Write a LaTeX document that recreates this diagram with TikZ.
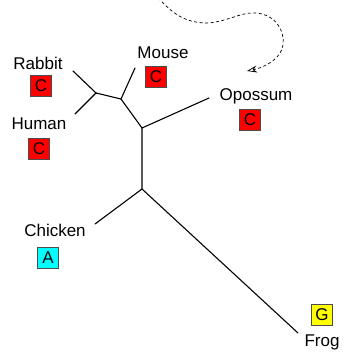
\documentclass[tikz,border=0pt]{standalone}
\usepackage{fontspec}
\setmainfont{Liberation Sans}
\usetikzlibrary{arrows.meta}
\definecolor{basered}{RGB}{255,0,0}
\definecolor{basecyan}{RGB}{0,255,255}
\definecolor{baseyellow}{RGB}{255,255,0}

\begin{document}
\begin{tikzpicture}[x=1pt,y=-1pt,
  taxon/.style={anchor=base,inner sep=0pt,font=\fontsize{17}{20}\selectfont},
  base/.style={draw=black!70,line width=0.6pt,minimum size=21pt,inner sep=0pt,font=\fontsize{17}{20}\selectfont},
  branch/.style={line width=1.1pt,line cap=round},
]
  \useasboundingbox (0,0) rectangle (345,353);
  % tree
  \coordinate (n1) at (96,93);
  \coordinate (n2) at (121,99);
  \coordinate (n3) at (142,128);
  \coordinate (n4) at (142,189);
  \coordinate (rabbit) at (73,71);
  \coordinate (human) at (75,114);
  \coordinate (mouse) at (135,68);
  \coordinate (opossum) at (209,98);
  \coordinate (chicken) at (95,224);
  \coordinate (frog) at (298,333);
  \draw[branch] (rabbit) -- (n1) -- (human);
  \draw[branch] (n1) -- (n2) -- (mouse);
  \draw[branch] (n2) -- (n3) -- (opossum);
  \draw[branch] (n3) -- (n4) -- (chicken);
  \draw[branch] (n4) -- (frog);
  % labels
  \node[taxon] (lrabbit) at (38,70) {Rabbit};
  \node[taxon] (lmouse) at (163,59) {Mouse};
  \node[taxon] (lopossum) at (256,100) {Opossum};
  \node[taxon] (lhuman) at (39,129) {Human};
  \node[taxon] (lchicken) at (55,236) {Chicken};
  \node[taxon] (lfrog) at (322,346) {Frog};
  \node[base,fill=basered] (brabbit) at (41,86) {C};
  \node[base,fill=basered] (bmouse) at (156,77) {C};
  \node[base,fill=basered] (bopossum) at (250,120) {C};
  \node[base,fill=basered] (bhuman) at (39,149) {C};
  \node[base,fill=basecyan] (bchicken) at (48,258) {A};
  \node[base,fill=baseyellow] (bfrog) at (322,315) {G};
  % dashed arrow
  \coordinate (from) at (158,-2);
  \coordinate (to) at (247,71);
  \draw[line width=0.7pt,dash pattern=on 3pt off 2.5pt,-{Stealth[open,length=10pt,width=7pt]}]
    (from) .. controls (172,12) and (182,22) .. (205,23)
    .. controls (225,23) and (240,12) .. (255,13)
    .. controls (275,14) and (285,30) .. (283,45)
    .. controls (281,60) and (262,68) .. (to);
\end{tikzpicture}
\end{document}
